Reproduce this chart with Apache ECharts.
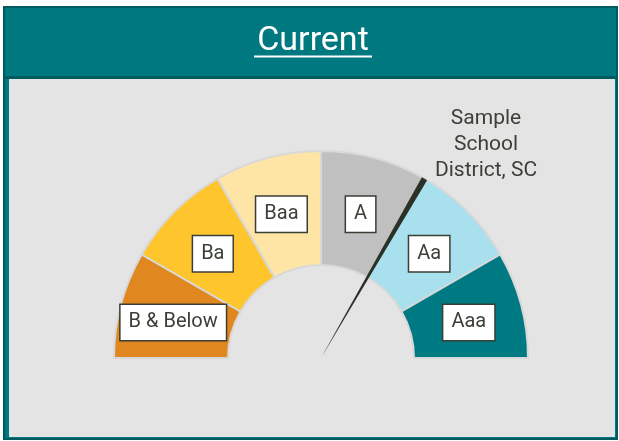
<!DOCTYPE html>
<html>
<head>
<meta charset="utf-8">
<script src="https://cdn.jsdelivr.net/npm/echarts@6/dist/echarts.min.js"></script>
<style>
  html, body { margin: 0; padding: 0; background: #fff; }
  #chart { width: 619px; height: 441px; }
</style>
</head>
<body>
<div id="chart"></div>
<script>
// rating bands, left to right around the dial
const ratingBands = ['B & Below', 'Ba', 'Baa', 'A', 'Aa', 'Aaa'];
const bandSizes = [1, 1, 1, 1, 1, 1];
const bandColors = ['#E0881F', '#FEC52C', '#FFE5A5', '#C0C0C0', '#A8E0EE', '#007A82'];
// needle position on the 0..6 band scale
const districtScore = 4;
const districtLabel = ['Sample', 'School', 'District, SC'];
const headerTitle = 'Current';

const chart = echarts.init(document.getElementById('chart'));
const font = 'Roboto, "Liberation Sans", sans-serif';
const textColor = '#3b4037';

const option = {
  animation: false,
  backgroundColor: '#ffffff',
  graphic: [
    // outer frame + header
    { type: 'rect', shape: { x: 4, y: 7, width: 613, height: 432 }, style: { fill: '#00787F', stroke: '#005B61', lineWidth: 2 }, z: 0 },
    { type: 'rect', shape: { x: 9, y: 79, width: 606, height: 358 }, style: { fill: '#E4E4E4' }, z: 1 },
    { type: 'line', shape: { x1: 5, y1: 77.5, x2: 616, y2: 77.5 }, style: { stroke: '#005B61', lineWidth: 3 }, z: 1 },
    {
      type: 'text', x: 313, y: 41, z: 2,
      style: { text: headerTitle, fill: '#ffffff', font: '34px ' + font, align: 'center', verticalAlign: 'middle' }
    },
    { type: 'line', shape: { x1: 254, y1: 56.5, x2: 372, y2: 56.5 }, style: { stroke: '#ffffff', lineWidth: 2 }, z: 2 },
    {
      type: 'text', x: 486, y: 145, z: 5,
      style: {
        text: districtLabel.join('\n'), fill: textColor, font: '21px ' + font,
        lineHeight: 26, align: 'center', verticalAlign: 'middle'
      }
    }
  ],
  series: [
    {
      type: 'pie',
      silent: true,
      center: [321, 358],
      radius: [93, 207],
      startAngle: 180,
      endAngle: 0,
      clockwise: true,
      z: 3,
      itemStyle: { borderColor: '#D8D8D8', borderWidth: 2 },
      label: {
        show: true,
        position: 'inside',
        formatter: '{b}',
        fontFamily: font,
        fontSize: 20,
        color: textColor,
        backgroundColor: '#ffffff',
        borderColor: '#3a3f35',
        borderWidth: 1.5,
        padding: [8, 8, 7, 8],
        offset: [0, 4]
      },
      labelLine: { show: false },
      data: ratingBands.map((name, i) => ({
        name: name,
        value: bandSizes[i],
        itemStyle: { color: bandColors[i] }
      }))
    },
    {
      type: 'gauge',
      center: [321, 358],
      radius: 207,
      startAngle: 180,
      endAngle: 0,
      min: 0,
      max: bandSizes.reduce((a, b) => a + b, 0),
      z: 6,
      axisLine: { show: false },
      axisTick: { show: false },
      splitLine: { show: false },
      axisLabel: { show: false },
      anchor: { show: false },
      title: { show: false },
      detail: { show: false },
      pointer: {
        icon: 'path://M0,0 L10,0 L5,100 Z',
        length: '100%',
        width: 6,
        offsetCenter: [0, 0],
        keepAspect: false,
        itemStyle: { color: '#2B3127' }
      },
      data: [{ value: districtScore, name: districtLabel.join(' ') }]
    }
  ]
};

chart.setOption(option);
</script>
</body>
</html>
